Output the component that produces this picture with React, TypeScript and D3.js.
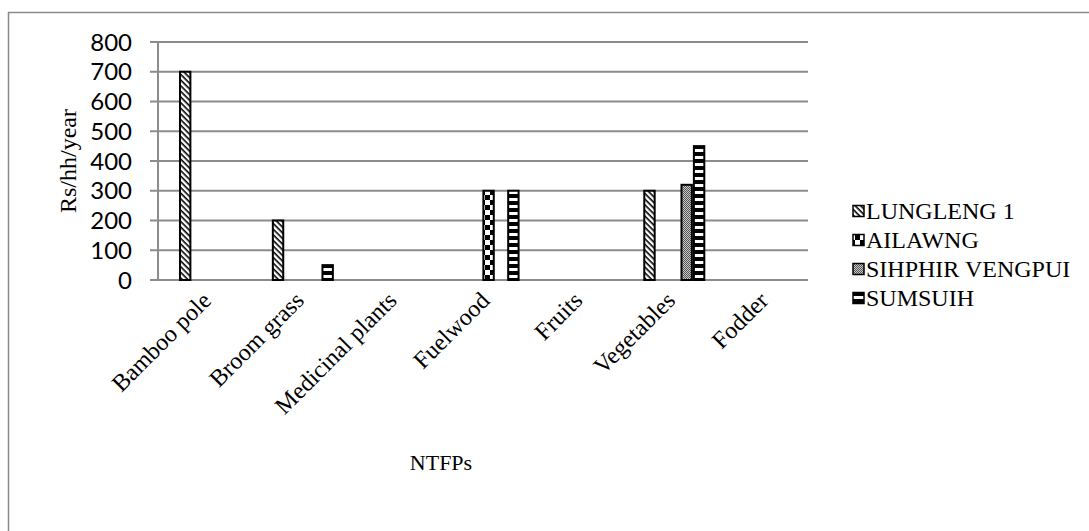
import React from 'react';
import * as d3 from 'd3';

const categories = ["Bamboo pole", "Broom grass", "Medicinal plants", "Fuelwood", "Fruits", "Vegetables", "Fodder"];
const seriesNames = ["LUNGLENG 1", "AILAWNG", "SIHPHIR VENGPUI", "SUMSUIH"];
const lungleng1 = [700, 200, 0, 0, 0, 300, 0];
const ailawng = [0, 0, 0, 300, 0, 0, 0];
const sihphirVengpui = [0, 0, 0, 0, 0, 320, 0];
const sumsuih = [0, 50, 0, 300, 0, 450, 0];
const yTicks = [0, 100, 200, 300, 400, 500, 600, 700, 800];
const yTitle = "Rs/hh/year";
const xTitle = "NTFPs";

const seriesValues = [lungleng1, ailawng, sihphirVengpui, sumsuih];
const patternIds = ["pL", "pA", "pS", "pU"];
// slot of each series within a category's cluster (slot 1 is empty in the source chart)
const slotOf = [0, 2, 3, 4];

const W = 1089, H = 531;
const left = 158, right = 808, top = 42, bottom = 280;
const serif = '"Liberation Serif", "Times New Roman", serif';
const sans = 'Lato, "Liberation Sans", sans-serif';

export default function App() {
  const x = d3.scaleBand<string>().domain(categories).range([left, right]).padding(0);
  const bw = x.bandwidth();
  const slots = d3.scaleBand<number>().domain([0, 1, 2, 3, 4]).range([bw * 0.226, bw * 0.226 + bw * 0.668]).padding(0);
  const y = d3.scaleLinear().domain([0, 800]).range([bottom, top]);
  const grid = '#8c8c8c';

  return (
    <svg width={W} height={H} style={{ position: 'absolute', left: 0, top: 0, background: '#fff' }}>
      <defs>
        <pattern id="pL" patternUnits="userSpaceOnUse" width="4" height="4" patternTransform="rotate(45)">
          <rect width="4" height="4" fill="#fff" />
          <rect width="4" height="1.6" fill="#000" />
        </pattern>
        <pattern id="pA" patternUnits="userSpaceOnUse" width="10" height="10">
          <rect width="10" height="10" fill="#fff" />
          <rect x="0" y="0" width="5" height="5" fill="#000" />
          <rect x="5" y="5" width="5" height="5" fill="#000" />
        </pattern>
        <pattern id="pS" patternUnits="userSpaceOnUse" width="2" height="2">
          <rect width="2" height="2" fill="#c8c8c8" />
          <rect x="0" y="0" width="1" height="1" fill="#555" />
          <rect x="1" y="1" width="1" height="1" fill="#555" />
        </pattern>
        <pattern id="pU" patternUnits="userSpaceOnUse" width="7" height="7">
          <rect width="7" height="7" fill="#000" />
          <rect x="0" y="2" width="7" height="3" fill="#fff" />
        </pattern>
      </defs>

      <rect x={8.5} y={12.5} width={1200} height={700} fill="none" stroke="#8a8a8a" strokeWidth={1.5} />

      {yTicks.map(t => (
        <g key={t}>
          <line x1={left - 8} x2={right} y1={y(t)} y2={y(t)} stroke={grid} strokeWidth={2} />
          <text x={left - 26} y={y(t)} dy="0.36em" textAnchor="end" fontFamily={sans} fontSize={24} fill="#000">{t}</text>
        </g>
      ))}
      <line x1={left} x2={left} y1={top} y2={bottom} stroke={grid} strokeWidth={2} />

      {seriesValues.map((vals, si) => (
        <g key={si}>
          {vals.map((v, ci) => v > 0 ? (
            <rect key={ci}
              x={(x(categories[ci]) as number) + (slots(slotOf[si]) as number) + 1}
              width={slots.bandwidth() - 2}
              y={y(v)} height={y(0) - y(v)}
              fill={`url(#${patternIds[si]})`} stroke="#000" strokeWidth={2} />
          ) : null)}
        </g>
      ))}

      {categories.map(c => {
        const cx = (x(c) as number) + bw / 2 + 8;
        const cy = bottom + 22;
        return (
          <text key={c} transform={`translate(${cx},${cy}) rotate(-45)`} textAnchor="end"
            fontFamily={serif} fontSize={24} fill="#000">{c}</text>
        );
      })}

      <text transform={`translate(76,${(top + bottom) / 2}) rotate(-90)`} textAnchor="middle"
        fontFamily={serif} fontSize={24} fill="#000">{yTitle}</text>
      <text x={441} y={470} textAnchor="middle" fontFamily={serif} fontSize={22} fill="#000">{xTitle}</text>

      {seriesNames.map((name, i) => {
        const ly = 211 + i * 29;
        return (
          <g key={name}>
            <rect x={853} y={ly - 5.5} width={11} height={11} fill={`url(#${patternIds[i]})`} stroke="#000" strokeWidth={1.5} />
            <text x={866} y={ly} dy="0.35em" fontFamily={serif} fontSize={24} fill="#000">{name}</text>
          </g>
        );
      })}
    </svg>
  );
}
